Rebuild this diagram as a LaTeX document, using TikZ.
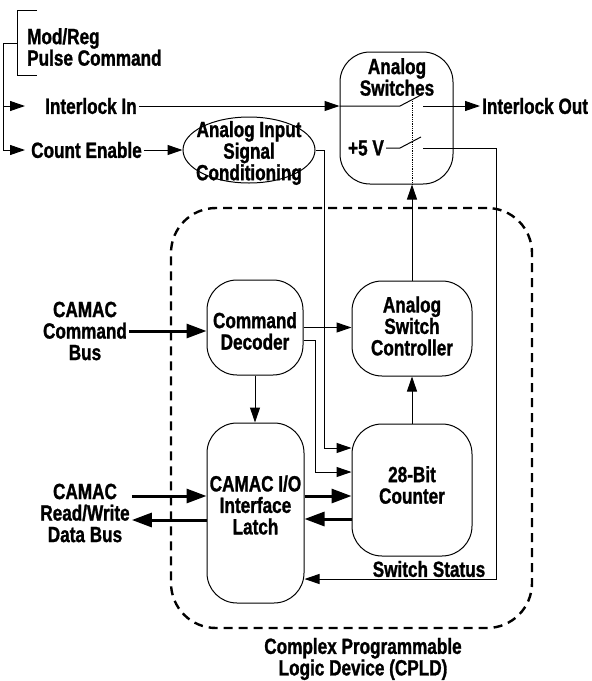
\documentclass[tikz,border=0pt]{standalone}
\usepackage{fontspec}
\setmainfont{Liberation Sans}[FakeStretch=0.78, BoldFeatures={FakeBold=1.2}]
\usetikzlibrary{arrows.meta,shapes.geometric,calc}
\tikzset{
    block/.style = {draw, rectangle, rounded corners=30pt, line width=1pt},
    oval/.style = {draw, ellipse, line width=1pt, inner sep=0pt},
    txt/.style = {align=center, inner sep=2pt, font=\bfseries\fontsize{22}{21.5}\selectfont},
    wire/.style = {draw, line width=1pt, -{Triangle[length=15pt,width=10pt]}},
    plain/.style = {draw, line width=1pt},
    bus/.style = {draw, line width=3pt, -{Triangle[length=20pt,width=14pt]}},
    cpld/.style = {draw, rounded corners=45pt, line width=2.4pt, dash pattern=on 9pt off 6pt}
}

\begin{document}
\begin{tikzpicture}[x=1pt,y=-1pt]
        \useasboundingbox (0,0) rectangle (592,681);
        \node[cpld, minimum width=361pt, minimum height=420pt] (cpld) at (351.5,418) {};
        \node[txt] (cpldname) at (363,659) {Complex Programmable\\Logic Device (CPLD)};
        \node[block, minimum width=113pt, minimum height=132pt] (sw) at (396.5,118) {};
        \node[txt] (swtext) at (397,77) {Analog\\Switches};
        \node[oval, minimum width=132pt, minimum height=66pt] (cond) at (249,150) {};
        \node[txt, font=\bfseries\fontsize{22}{20}\selectfont] (condtext) at (249,153) {Analog Input\\Signal\\Conditioning};
        \node[block, minimum width=96pt, minimum height=95pt] (dec) at (255,327.5) {};
        \node[txt] (dectext) at (255,331) {Command\\Decoder};
        \node[block, minimum width=97pt, minimum height=180pt] (lat) at (255.5,513) {};
        \node[txt] (lattext) at (255.5,505) {CAMAC I/O\\Interface\\Latch};
        \node[block, minimum width=120pt, minimum height=95pt] (ctl) at (412,328.5) {};
        \node[txt] (ctltext) at (412,326) {Analog\\Switch\\Controller};
        \node[block, minimum width=120pt, minimum height=132pt] (cnt) at (412,490) {};
        \node[txt] (cnttext) at (412,485) {28-Bit\\Counter};
        \node[txt] (cmdbus) at (85,331) {CAMAC\\Command\\Bus};
        \node[txt] (rwbus) at (85,513) {CAMAC\\Read/Write\\Data Bus};
        \node[txt, anchor=west, align=left] (modreg) at (25,47) {Mod/Reg\\Pulse Command};
        \node[txt, anchor=west] (ilin) at (43,106) {Interlock In};
        \node[txt, anchor=west] (cnten) at (29,150) {Count Enable};
        \node[txt, anchor=west] (ilout) at (480,106) {Interlock Out};
        \node[txt] (pfive) at (366,148) {+5 V};
        \node[txt] (status) at (429,569) {Switch Status};
        \coordinate (feed) at (3,43);
        \coordinate (brk) at (17,43);
        \coordinate (ilintip) at (25,106);
        \coordinate (centip) at (25,150);
        \coordinate (swa) at (400,106);
        \coordinate (swb) at (421,95);
        \coordinate (swc) at (423,106);
        \coordinate (swd) at (400,148);
        \coordinate (swe) at (421,137);
        \coordinate (swf) at (423,148);
        \draw[plain] (37,10) -- (17,10) -- (17,75) -- (37,75);
        \draw[plain] (brk) -- (feed) -- (feed |- centip);
        \draw[wire] (feed |- ilintip) -- (ilintip);
        \draw[wire] (feed |- centip) -- (centip);
        \draw[wire] (ilin.east) -- (ilin.east -| sw.west);
        \draw[plain] (ilin.east -| sw.west) -- (swa) -- (swb);
        \draw[wire] (swc) -- (ilout.west);
        \draw[plain] (pfive.east) -- (swd) -- (swe);
        \draw[wire] (swf) -| (496,579) -- (lat.east |- 0,579);
        \draw[densely dotted, line width=0.8pt] (ctl.north |- sw.south) -- (412,99);
        \draw[wire] (cnten.east) -- (cond.west);
        \draw[wire] (cond.east) -- ++(9,0) |- (cnt.west |- 0,448);
        \draw[wire] (dec.east) -- (dec.east -| ctl.west);
        \draw[wire] (dec.east |- 0,340) -| (315,472) -- (cnt.west |- 0,472);
        \draw[wire] (dec.south) -- (dec.south |- lat.north);
        \draw[wire] (cnt.north) -- (ctl.south);
        \draw[wire] (ctl.north) -- (ctl.north |- sw.south);
        \draw[bus] (lat.east |- 0,496) -- (cnt.west |- 0,496);
        \draw[bus] (cnt.west |- 0,519) -- (lat.east |- 0,519);
        \draw[bus] (cmdbus.east) -- (cmdbus.east -| dec.west);
        \draw[bus] (rwbus.east |- 0,496) -- (lat.west |- 0,496);
        \draw[bus] (lat.west |- 0,520) -- (rwbus.east |- 0,520);
        \end{tikzpicture}
\end{document}
